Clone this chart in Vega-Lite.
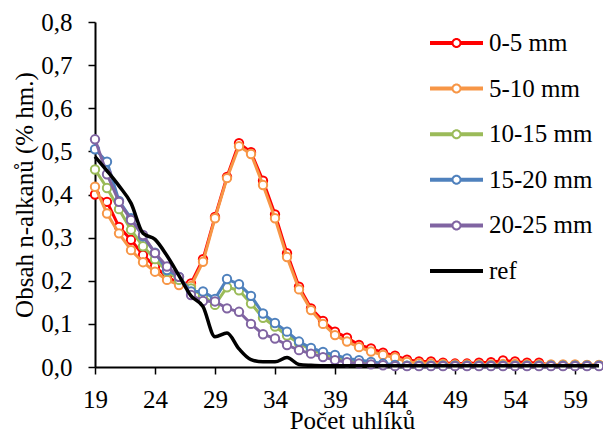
{
"$schema":"https://vega.github.io/schema/vega-lite/v6.json",
"width":508,"height":345,
"autosize":{"type":"none"},
"padding":{"left":95,"top":22,"right":0,"bottom":65},
"background":"white",
"config":{"view":{"stroke":null},"font":"Liberation Serif",
"axis":{"grid":false,"domainColor":"black","domainWidth":2,"tickColor":"black","tickWidth":1.5,"labelFont":"Liberation Serif","labelFontSize":25,"labelColor":"black","titleFont":"Liberation Serif","titleFontSize":25,"titleColor":"black","titleFontWeight":"normal","labelFlush":false,"labelOverlap":false},
"legend":{"labelFont":"Liberation Serif"}},
"data":{"values":[
{"s":"0-5 mm","x":19,"y":0.4},{"s":"0-5 mm","x":20,"y":0.383},{"s":"0-5 mm","x":21,"y":0.325},{"s":"0-5 mm","x":22,"y":0.295},{"s":"0-5 mm","x":23,"y":0.26},{"s":"0-5 mm","x":24,"y":0.233},{"s":"0-5 mm","x":25,"y":0.209},{"s":"0-5 mm","x":26,"y":0.194},{"s":"0-5 mm","x":27,"y":0.194},{"s":"0-5 mm","x":28,"y":0.25},
{"s":"0-5 mm","x":29,"y":0.348},{"s":"0-5 mm","x":30,"y":0.441},{"s":"0-5 mm","x":31,"y":0.519},{"s":"0-5 mm","x":32,"y":0.498},{"s":"0-5 mm","x":33,"y":0.432},{"s":"0-5 mm","x":34,"y":0.354},{"s":"0-5 mm","x":35,"y":0.264},{"s":"0-5 mm","x":36,"y":0.186},{"s":"0-5 mm","x":37,"y":0.136},{"s":"0-5 mm","x":38,"y":0.107},
{"s":"0-5 mm","x":39,"y":0.082},{"s":"0-5 mm","x":40,"y":0.068},{"s":"0-5 mm","x":41,"y":0.051},{"s":"0-5 mm","x":42,"y":0.043},{"s":"0-5 mm","x":43,"y":0.033},{"s":"0-5 mm","x":44,"y":0.026},{"s":"0-5 mm","x":45,"y":0.017},{"s":"0-5 mm","x":46,"y":0.013},{"s":"0-5 mm","x":47,"y":0.013},{"s":"0-5 mm","x":48,"y":0.01},
{"s":"0-5 mm","x":49,"y":0.008},{"s":"0-5 mm","x":50,"y":0.008},{"s":"0-5 mm","x":51,"y":0.01},{"s":"0-5 mm","x":52,"y":0.011},{"s":"0-5 mm","x":53,"y":0.015},{"s":"0-5 mm","x":54,"y":0.013},{"s":"0-5 mm","x":55,"y":0.01},{"s":"0-5 mm","x":56,"y":0.01},{"s":"0-5 mm","x":57,"y":0.004},{"s":"0-5 mm","x":58,"y":0.004},
{"s":"0-5 mm","x":59,"y":0.004},{"s":"0-5 mm","x":60,"y":0.004},{"s":"0-5 mm","x":61,"y":0.004},
{"s":"5-10 mm","x":19,"y":0.418},{"s":"5-10 mm","x":20,"y":0.356},{"s":"5-10 mm","x":21,"y":0.31},{"s":"5-10 mm","x":22,"y":0.271},{"s":"5-10 mm","x":23,"y":0.243},{"s":"5-10 mm","x":24,"y":0.221},{"s":"5-10 mm","x":25,"y":0.202},{"s":"5-10 mm","x":26,"y":0.19},{"s":"5-10 mm","x":27,"y":0.188},{"s":"5-10 mm","x":28,"y":0.244},
{"s":"5-10 mm","x":29,"y":0.345},{"s":"5-10 mm","x":30,"y":0.438},{"s":"5-10 mm","x":31,"y":0.512},{"s":"5-10 mm","x":32,"y":0.494},{"s":"5-10 mm","x":33,"y":0.422},{"s":"5-10 mm","x":34,"y":0.345},{"s":"5-10 mm","x":35,"y":0.255},{"s":"5-10 mm","x":36,"y":0.18},{"s":"5-10 mm","x":37,"y":0.132},{"s":"5-10 mm","x":38,"y":0.1},
{"s":"5-10 mm","x":39,"y":0.074},{"s":"5-10 mm","x":40,"y":0.059},{"s":"5-10 mm","x":41,"y":0.046},{"s":"5-10 mm","x":42,"y":0.036},{"s":"5-10 mm","x":43,"y":0.028},{"s":"5-10 mm","x":44,"y":0.022},{"s":"5-10 mm","x":45,"y":0.012},{"s":"5-10 mm","x":46,"y":0.009},{"s":"5-10 mm","x":47,"y":0.008},{"s":"5-10 mm","x":48,"y":0.007},
{"s":"5-10 mm","x":49,"y":0.006},{"s":"5-10 mm","x":50,"y":0.006},{"s":"5-10 mm","x":51,"y":0.006},{"s":"5-10 mm","x":52,"y":0.006},{"s":"5-10 mm","x":53,"y":0.007},{"s":"5-10 mm","x":54,"y":0.007},{"s":"5-10 mm","x":55,"y":0.006},{"s":"5-10 mm","x":56,"y":0.006},{"s":"5-10 mm","x":57,"y":0.006},{"s":"5-10 mm","x":58,"y":0.006},
{"s":"5-10 mm","x":59,"y":0.006},{"s":"5-10 mm","x":60,"y":0.005},{"s":"5-10 mm","x":61,"y":0.005},
{"s":"10-15 mm","x":19,"y":0.458},{"s":"10-15 mm","x":20,"y":0.415},{"s":"10-15 mm","x":21,"y":0.366},{"s":"10-15 mm","x":22,"y":0.318},{"s":"10-15 mm","x":23,"y":0.28},{"s":"10-15 mm","x":24,"y":0.25},{"s":"10-15 mm","x":25,"y":0.222},{"s":"10-15 mm","x":26,"y":0.202},{"s":"10-15 mm","x":27,"y":0.182},{"s":"10-15 mm","x":28,"y":0.165},
{"s":"10-15 mm","x":29,"y":0.144},{"s":"10-15 mm","x":30,"y":0.185},{"s":"10-15 mm","x":31,"y":0.178},{"s":"10-15 mm","x":32,"y":0.147},{"s":"10-15 mm","x":33,"y":0.114},{"s":"10-15 mm","x":34,"y":0.094},{"s":"10-15 mm","x":35,"y":0.073},{"s":"10-15 mm","x":36,"y":0.055},{"s":"10-15 mm","x":37,"y":0.04},{"s":"10-15 mm","x":38,"y":0.03},
{"s":"10-15 mm","x":39,"y":0.022},{"s":"10-15 mm","x":40,"y":0.016},{"s":"10-15 mm","x":41,"y":0.012},{"s":"10-15 mm","x":42,"y":0.009},{"s":"10-15 mm","x":43,"y":0.006},{"s":"10-15 mm","x":44,"y":0.004},{"s":"10-15 mm","x":45,"y":0.003},{"s":"10-15 mm","x":46,"y":0.003},{"s":"10-15 mm","x":47,"y":0.003},{"s":"10-15 mm","x":48,"y":0.003},
{"s":"10-15 mm","x":49,"y":0.003},{"s":"10-15 mm","x":50,"y":0.003},{"s":"10-15 mm","x":51,"y":0.003},{"s":"10-15 mm","x":52,"y":0.003},{"s":"10-15 mm","x":53,"y":0.003},{"s":"10-15 mm","x":54,"y":0.003},{"s":"10-15 mm","x":55,"y":0.003},{"s":"10-15 mm","x":56,"y":0.003},{"s":"10-15 mm","x":57,"y":0.003},{"s":"10-15 mm","x":58,"y":0.003},
{"s":"10-15 mm","x":59,"y":0.003},{"s":"10-15 mm","x":60,"y":0.003},{"s":"10-15 mm","x":61,"y":0.003},
{"s":"15-20 mm","x":19,"y":0.505},{"s":"15-20 mm","x":20,"y":0.476},{"s":"15-20 mm","x":21,"y":0.385},{"s":"15-20 mm","x":22,"y":0.345},{"s":"15-20 mm","x":23,"y":0.303},{"s":"15-20 mm","x":24,"y":0.265},{"s":"15-20 mm","x":25,"y":0.225},{"s":"15-20 mm","x":26,"y":0.209},{"s":"15-20 mm","x":27,"y":0.175},{"s":"15-20 mm","x":28,"y":0.175},
{"s":"15-20 mm","x":29,"y":0.158},{"s":"15-20 mm","x":30,"y":0.204},{"s":"15-20 mm","x":31,"y":0.192},{"s":"15-20 mm","x":32,"y":0.165},{"s":"15-20 mm","x":33,"y":0.124},{"s":"15-20 mm","x":34,"y":0.102},{"s":"15-20 mm","x":35,"y":0.082},{"s":"15-20 mm","x":36,"y":0.059},{"s":"15-20 mm","x":37,"y":0.044},{"s":"15-20 mm","x":38,"y":0.035},
{"s":"15-20 mm","x":39,"y":0.028},{"s":"15-20 mm","x":40,"y":0.02},{"s":"15-20 mm","x":41,"y":0.016},{"s":"15-20 mm","x":42,"y":0.012},{"s":"15-20 mm","x":43,"y":0.008},{"s":"15-20 mm","x":44,"y":0.005},{"s":"15-20 mm","x":45,"y":0.003},{"s":"15-20 mm","x":46,"y":0.003},{"s":"15-20 mm","x":47,"y":0.003},{"s":"15-20 mm","x":48,"y":0.003},
{"s":"15-20 mm","x":49,"y":0.003},{"s":"15-20 mm","x":50,"y":0.003},{"s":"15-20 mm","x":51,"y":0.003},{"s":"15-20 mm","x":52,"y":0.003},{"s":"15-20 mm","x":53,"y":0.003},{"s":"15-20 mm","x":54,"y":0.003},{"s":"15-20 mm","x":55,"y":0.003},{"s":"15-20 mm","x":56,"y":0.003},{"s":"15-20 mm","x":57,"y":0.003},{"s":"15-20 mm","x":58,"y":0.003},
{"s":"15-20 mm","x":59,"y":0.003},{"s":"15-20 mm","x":60,"y":0.003},{"s":"15-20 mm","x":61,"y":0.003},
{"s":"20-25 mm","x":19,"y":0.528},{"s":"20-25 mm","x":20,"y":0.447},{"s":"20-25 mm","x":21,"y":0.383},{"s":"20-25 mm","x":22,"y":0.341},{"s":"20-25 mm","x":23,"y":0.306},{"s":"20-25 mm","x":24,"y":0.264},{"s":"20-25 mm","x":25,"y":0.233},{"s":"20-25 mm","x":26,"y":0.209},{"s":"20-25 mm","x":27,"y":0.167},{"s":"20-25 mm","x":28,"y":0.153},
{"s":"20-25 mm","x":29,"y":0.152},{"s":"20-25 mm","x":30,"y":0.136},{"s":"20-25 mm","x":31,"y":0.128},{"s":"20-25 mm","x":32,"y":0.1},{"s":"20-25 mm","x":33,"y":0.076},{"s":"20-25 mm","x":34,"y":0.066},{"s":"20-25 mm","x":35,"y":0.051},{"s":"20-25 mm","x":36,"y":0.039},{"s":"20-25 mm","x":37,"y":0.031},{"s":"20-25 mm","x":38,"y":0.023},
{"s":"20-25 mm","x":39,"y":0.016},{"s":"20-25 mm","x":40,"y":0.011},{"s":"20-25 mm","x":41,"y":0.008},{"s":"20-25 mm","x":42,"y":0.006},{"s":"20-25 mm","x":43,"y":0.004},{"s":"20-25 mm","x":44,"y":0.002},{"s":"20-25 mm","x":45,"y":0.002},{"s":"20-25 mm","x":46,"y":0.002},{"s":"20-25 mm","x":47,"y":0.002},{"s":"20-25 mm","x":48,"y":0.002},
{"s":"20-25 mm","x":49,"y":0.002},{"s":"20-25 mm","x":50,"y":0.002},{"s":"20-25 mm","x":51,"y":0.002},{"s":"20-25 mm","x":52,"y":0.002},{"s":"20-25 mm","x":53,"y":0.002},{"s":"20-25 mm","x":54,"y":0.002},{"s":"20-25 mm","x":55,"y":0.002},{"s":"20-25 mm","x":56,"y":0.002},{"s":"20-25 mm","x":57,"y":0.002},{"s":"20-25 mm","x":58,"y":0.002},
{"s":"20-25 mm","x":59,"y":0.002},{"s":"20-25 mm","x":60,"y":0.002},{"s":"20-25 mm","x":61,"y":0.002},
{"s":"ref","x":19,"y":0.488},{"s":"ref","x":20,"y":0.455},{"s":"ref","x":21,"y":0.42},{"s":"ref","x":22,"y":0.38},{"s":"ref","x":23,"y":0.31},{"s":"ref","x":24,"y":0.296},{"s":"ref","x":25,"y":0.258},{"s":"ref","x":26,"y":0.212},{"s":"ref","x":27,"y":0.165},{"s":"ref","x":28,"y":0.14},
{"s":"ref","x":29,"y":0.07},{"s":"ref","x":30,"y":0.079},{"s":"ref","x":31,"y":0.042},{"s":"ref","x":32,"y":0.017},{"s":"ref","x":33,"y":0.012},{"s":"ref","x":34,"y":0.012},{"s":"ref","x":35,"y":0.022},{"s":"ref","x":36,"y":0.006},{"s":"ref","x":37,"y":0.004},{"s":"ref","x":38,"y":0.003},
{"s":"ref","x":39,"y":0.003},{"s":"ref","x":40,"y":0.003},{"s":"ref","x":41,"y":0.003},{"s":"ref","x":42,"y":0.003},{"s":"ref","x":43,"y":0.003},{"s":"ref","x":44,"y":0.003},{"s":"ref","x":45,"y":0.003},{"s":"ref","x":46,"y":0.003},{"s":"ref","x":47,"y":0.003},{"s":"ref","x":48,"y":0.003},
{"s":"ref","x":49,"y":0.003},{"s":"ref","x":50,"y":0.003},{"s":"ref","x":51,"y":0.003},{"s":"ref","x":52,"y":0.003},{"s":"ref","x":53,"y":0.003},{"s":"ref","x":54,"y":0.003},{"s":"ref","x":55,"y":0.003},{"s":"ref","x":56,"y":0.003},{"s":"ref","x":57,"y":0.003},{"s":"ref","x":58,"y":0.003},
{"s":"ref","x":59,"y":0.003},{"s":"ref","x":60,"y":0.003},{"s":"ref","x":61,"y":0.003}
]},
"encoding":{
"x":{"field":"x","type":"quantitative","scale":{"domain":[19,61.333],"nice":false,"zero":false},"axis":{"values":[19,24,29,34,39,44,49,54,59],"tickSize":7,"labelPadding":13,"labelFont":"Liberation Serif","labelFontSize":25,"title":"Počet uhlíků","titleFont":"Liberation Serif","titleFontSize":25,"titleX":257,"titleY":53.5,"titleBaseline":"middle","titleAlign":"center"}},
"y":{"field":"y","type":"quantitative","scale":{"domain":[0,0.8],"nice":false,"zero":true},"axis":{"values":[0,0.1,0.2,0.3,0.4,0.5,0.6,0.7,0.8],"tickSize":7,"labelPadding":16,"labelFont":"Liberation Serif","labelFontSize":25,"labelExpr":"replace(format(datum.value,'.1f'),'.',',')","title":"Obsah n-alkanů (% hm.)","titleFont":"Liberation Serif","titleFontSize":25,"titleX":-71,"titleY":172.5,"titleAngle":-90,"titleBaseline":"middle","titleAlign":"center"}}
},
"layer":[
{"transform":[{"filter":"datum.s==='0-5 mm'"}],"layer":[{"mark":{"type":"line","strokeWidth":3,"stroke":"#FF0000"}},{"mark":{"type":"point","filled":false,"fill":"white","stroke":"#FF0000","size":70,"strokeWidth":2,"opacity":1}}]},
{"transform":[{"filter":"datum.s==='5-10 mm'"}],"layer":[{"mark":{"type":"line","strokeWidth":3,"stroke":"#F79646"}},{"mark":{"type":"point","filled":false,"fill":"white","stroke":"#F79646","size":70,"strokeWidth":2,"opacity":1}}]},
{"transform":[{"filter":"datum.s==='10-15 mm'"}],"layer":[{"mark":{"type":"line","strokeWidth":3,"stroke":"#9BBB59"}},{"mark":{"type":"point","filled":false,"fill":"white","stroke":"#9BBB59","size":70,"strokeWidth":2,"opacity":1}}]},
{"transform":[{"filter":"datum.s==='15-20 mm'"}],"layer":[{"mark":{"type":"line","strokeWidth":3,"stroke":"#4F81BD"}},{"mark":{"type":"point","filled":false,"fill":"white","stroke":"#4F81BD","size":70,"strokeWidth":2,"opacity":1}}]},
{"transform":[{"filter":"datum.s==='20-25 mm'"}],"layer":[{"mark":{"type":"line","strokeWidth":3,"stroke":"#8064A2"}},{"mark":{"type":"point","filled":false,"fill":"white","stroke":"#8064A2","size":70,"strokeWidth":2,"opacity":1}}]},
{"transform":[{"filter":"datum.s==='ref'"}],"mark":{"type":"line","strokeWidth":3.5,"stroke":"#000000","interpolate":"monotone"}},
{"transform":[{"filter":"datum.x<0"}],"mark":{"type":"point","filled":true,"opacity":1},
"encoding":{
"color":{"field":"s","type":"nominal","scale":{"domain":["0-5 mm","5-10 mm","10-15 mm","15-20 mm","20-25 mm","ref"],"range":["#FF0000","#F79646","#9BBB59","#4F81BD","#8064A2","#000000"]},"legend":{"orient":"none","legendX":349,"legendY":8.5,"title":null,"symbolSize":400,"symbolStrokeWidth":0,"labelFont":"Liberation Serif","labelFontSize":25,"labelColor":"black","labelOffset":20,"symbolOffset":0,"rowPadding":19.6,"padding":0,"labelBaseline":"middle","labelLimit":300}},
"shape":{"field":"s","type":"nominal","scale":{"domain":["0-5 mm","5-10 mm","10-15 mm","15-20 mm","20-25 mm","ref"],"range":["M-2.65,-0.2H-0.45V0.2H-2.65ZM0.45,-0.2H2.65V0.2H0.45ZM0.5,0A0.5,0.5,0,1,1,-0.5,0A0.5,0.5,0,1,1,0.5,0ZM0.3,0A0.3,0.3,0,1,0,-0.3,0A0.3,0.3,0,1,0,0.3,0Z","M-2.65,-0.2H-0.45V0.2H-2.65ZM0.45,-0.2H2.65V0.2H0.45ZM0.5,0A0.5,0.5,0,1,1,-0.5,0A0.5,0.5,0,1,1,0.5,0ZM0.3,0A0.3,0.3,0,1,0,-0.3,0A0.3,0.3,0,1,0,0.3,0Z","M-2.65,-0.2H-0.45V0.2H-2.65ZM0.45,-0.2H2.65V0.2H0.45ZM0.5,0A0.5,0.5,0,1,1,-0.5,0A0.5,0.5,0,1,1,0.5,0ZM0.3,0A0.3,0.3,0,1,0,-0.3,0A0.3,0.3,0,1,0,0.3,0Z","M-2.65,-0.2H-0.45V0.2H-2.65ZM0.45,-0.2H2.65V0.2H0.45ZM0.5,0A0.5,0.5,0,1,1,-0.5,0A0.5,0.5,0,1,1,0.5,0ZM0.3,0A0.3,0.3,0,1,0,-0.3,0A0.3,0.3,0,1,0,0.3,0Z","M-2.65,-0.2H-0.45V0.2H-2.65ZM0.45,-0.2H2.65V0.2H0.45ZM0.5,0A0.5,0.5,0,1,1,-0.5,0A0.5,0.5,0,1,1,0.5,0ZM0.3,0A0.3,0.3,0,1,0,-0.3,0A0.3,0.3,0,1,0,0.3,0Z","M-2.65,-0.2H2.65V0.2H-2.65Z"]},"legend":{"orient":"none","legendX":349,"legendY":8.5,"title":null,"symbolSize":400,"symbolStrokeWidth":0,"labelFont":"Liberation Serif","labelFontSize":25,"labelColor":"black","labelOffset":20,"symbolOffset":0,"rowPadding":19.6,"padding":0,"labelBaseline":"middle","labelLimit":300}}
}}
]
}
